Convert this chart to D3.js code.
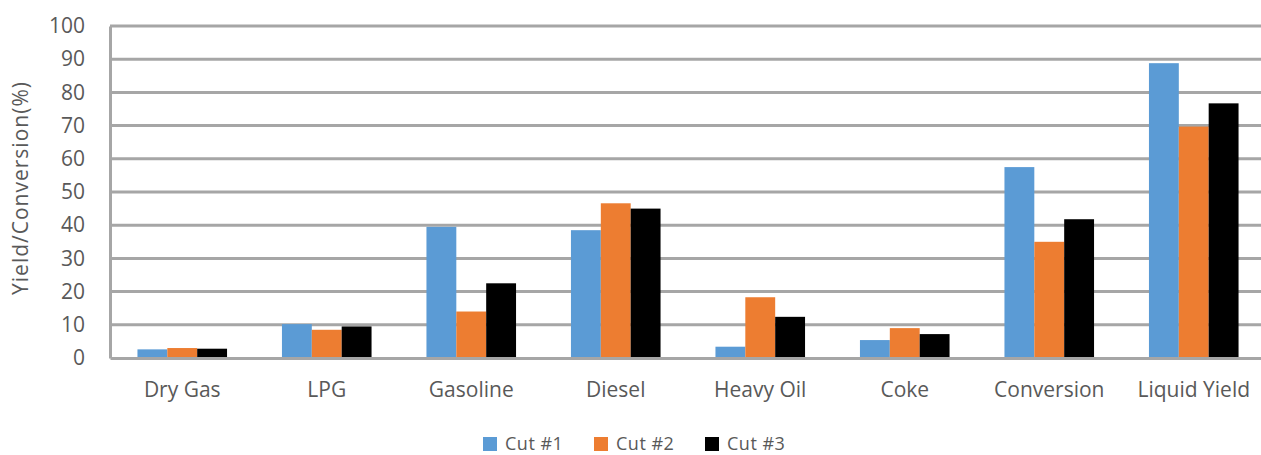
<!DOCTYPE html>
<html>
<head>
<meta charset="utf-8">
<script src="https://cdn.jsdelivr.net/npm/d3@7"></script>
<style>
  body { margin: 0; background: #fff; }
  text { font-family: "Open Sans", "Liberation Sans", sans-serif; fill: #595959; }
</style>
</head>
<body>
<div id="chart"></div>
<script>
// chart data
const categories = ["Dry Gas", "LPG", "Gasoline", "Diesel", "Heavy Oil", "Coke", "Conversion", "Liquid Yield"];
const seriesNames = ["Cut #1", "Cut #2", "Cut #3"];
const cut1 = [2.6, 10.2, 39.5, 38.5, 3.4, 5.4, 57.5, 88.8];
const cut2 = [3.0, 8.5, 14.0, 46.6, 18.3, 9.0, 35.0, 69.7];
const cut3 = [2.8, 9.5, 22.5, 45.0, 12.4, 7.2, 41.8, 76.7];
const yTicks = [0, 10, 20, 30, 40, 50, 60, 70, 80, 90, 100];
const colors = ["#5b9bd5", "#ed7d31", "#000000"];

const W = 1261, H = 455;
const margin = { top: 26, right: -5, bottom: 97, left: 110 };
const width = W - margin.left - margin.right;
const height = H - margin.top - margin.bottom;

const svg = d3.select("#chart").append("svg")
  .attr("width", W)
  .attr("height", H);

const g = svg.append("g")
  .attr("transform", "translate(" + margin.left + "," + margin.top + ")");

// scales
const x0 = d3.scaleBand().domain(categories).range([0, width])
  .paddingInner(0.38).paddingOuter(0.19);
const x1 = d3.scaleBand().domain(seriesNames).range([0, x0.bandwidth()]);
const y = d3.scaleLinear().domain([0, 100]).range([height, 0]);

// gridlines
g.append("g")
  .selectAll("line")
  .data(yTicks.filter(d => d > 0))
  .enter().append("line")
  .attr("x1", 0).attr("x2", width)
  .attr("y1", d => y(d)).attr("y2", d => y(d))
  .style("stroke", "#a6a6a6")
  .style("stroke-width", 3);

// bars
const rows = categories.map((c, i) => ({ cat: c, vals: [cut1[i], cut2[i], cut3[i]] }));
const grp = g.selectAll(".grp")
  .data(rows)
  .enter().append("g")
  .attr("class", "grp")
  .attr("transform", d => "translate(" + x0(d.cat) + ",0)");

grp.selectAll("rect")
  .data(d => d.vals.map((v, k) => ({ name: seriesNames[k], v: v, k: k })))
  .enter().append("rect")
  .attr("x", d => x1(d.name))
  .attr("width", x1.bandwidth())
  .attr("y", d => y(d.v))
  .attr("height", d => y(0) - y(d.v))
  .style("fill", d => colors[d.k]);

// x axis (baseline + labels)
const xAxis = g.append("g")
  .attr("transform", "translate(0," + height + ")")
  .call(d3.axisBottom(x0).tickSize(0).tickPadding(24));
xAxis.select(".domain").style("stroke", "#a6a6a6").style("stroke-width", 3);
xAxis.selectAll("text").style("font-size", "21px").style("fill", "#595959");

// y axis
const yAxis = g.append("g")
  .call(d3.axisLeft(y).tickValues(yTicks).tickSize(0).tickPadding(25));
yAxis.select(".domain").style("stroke", "#a6a6a6").style("stroke-width", 3);
yAxis.selectAll("text").style("font-size", "21px").style("fill", "#595959");

// y axis title
svg.append("text")
  .attr("transform", "translate(28,188) rotate(-90)")
  .attr("text-anchor", "middle")
  .style("font-size", "21px")
  .style("letter-spacing", "1px")
  .text("Yield/Conversion(%)");

// legend
const legend = svg.append("g").attr("transform", "translate(483,436)");
const item = legend.selectAll("g")
  .data(seriesNames)
  .enter().append("g")
  .attr("transform", (d, i) => "translate(" + (i * 111) + ",0)");
item.append("rect")
  .attr("y", 1)
  .attr("width", 14).attr("height", 14)
  .style("fill", (d, i) => colors[i]);
item.append("text")
  .attr("x", 22).attr("y", 14)
  .style("font-size", "18px")
  .style("letter-spacing", "0.5px")
  .text(d => d);
</script>
</body>
</html>
